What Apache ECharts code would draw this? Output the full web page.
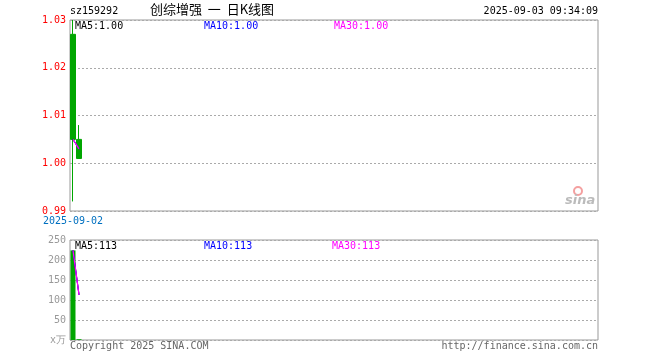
<!DOCTYPE html>
<html>
<head>
<meta charset="utf-8">
<script src="https://cdn.jsdelivr.net/npm/echarts@6/dist/echarts.min.js"></script>
<style>html,body{margin:0;padding:0;background:#fff}#c{width:660px;height:360px}</style>
</head>
<body>
<div id="c"></div>
<script>
// ---- data ----
var dates = ['2025-09-02', '2025-09-03'];
var openP  = [1.027, 1.005];
var closeP = [1.005, 1.001];
var lowP   = [0.992, 1.001];
var highP  = [1.030, 1.008];
var volumes = [224, 2];
var ma5  = [1.005, 1.003];
var ma10 = [1.005, 1.003];
var ma30 = [1.005, 1.003];
var volMa5  = [224, 113];
var volMa10 = [224, 113];
var volMa30 = [224, 113];
var priceTicks = [0.99, 1.00, 1.01, 1.02, 1.03];
var volTicks = [0, 50, 100, 150, 200, 250];
var slotCount = 88;

var cats = [];
for (var i = 0; i < slotCount; i++) cats.push(i < dates.length ? dates[i] : '');
var kData = dates.map(function (d, i) { return [openP[i], closeP[i], lowP[i], highP[i]]; });

var GREEN = '#00a600', RED = '#ff0000';
var mono = '"DejaVu Sans Mono", monospace';

var chart = echarts.init(document.getElementById('c'), null, {renderer: 'canvas'});
chart.setOption({
  animation: false,
  backgroundColor: '#fff',
  grid: [
    {left: 70, top: 20, width: 528, height: 191, show: true, borderColor: '#999', borderWidth: 1, backgroundColor: 'transparent'},
    {left: 70, top: 240, width: 528, height: 100, show: true, borderColor: '#999', borderWidth: 1, backgroundColor: 'transparent'}
  ],
  xAxis: [
    {type: 'category', gridIndex: 0, data: cats, boundaryGap: true,
     axisLine: {show: false}, axisTick: {show: false}, splitLine: {show: false},
     axisLabel: {show: true, interval: function (i) { return i === 0; }, color: '#0070c0', fontFamily: mono, fontSize: 10, margin: 5, align: 'center',
       formatter: function (v, i) { return i === 0 ? v : ''; }}},
    {type: 'category', gridIndex: 1, data: cats, boundaryGap: true,
     axisLine: {show: false}, axisTick: {show: false}, splitLine: {show: false}, axisLabel: {show: false}}
  ],
  yAxis: [
    {type: 'value', gridIndex: 0, min: priceTicks[0], max: priceTicks[priceTicks.length - 1], interval: 0.01,
     axisLine: {show: false}, axisTick: {show: false},
     splitLine: {show: true, lineStyle: {color: '#aaa', type: [2, 2], width: 1}},
     axisLabel: {color: RED, fontFamily: mono, fontSize: 10, margin: 4, formatter: function (v) { return v.toFixed(2); }}},
    {type: 'value', gridIndex: 1, min: volTicks[0], max: volTicks[volTicks.length - 1], interval: 50,
     axisLine: {show: false}, axisTick: {show: false},
     splitLine: {show: true, lineStyle: {color: '#aaa', type: [2, 2], width: 1}},
     axisLabel: {color: '#999', fontFamily: mono, fontSize: 10, margin: 4, formatter: function (v) { return v === 0 ? 'x万' : String(v); }}}
  ],
  series: [
    {type: 'candlestick', xAxisIndex: 0, yAxisIndex: 0, data: kData, barWidth: 5,
     itemStyle: {color: RED, color0: GREEN, borderColor: RED, borderColor0: GREEN, borderWidth: 1}},
    {type: 'line', xAxisIndex: 0, yAxisIndex: 0, data: ma5, symbol: 'none', lineStyle: {color: '#000', width: 1}},
    {type: 'line', xAxisIndex: 0, yAxisIndex: 0, data: ma10, symbol: 'none', lineStyle: {color: '#0000ff', width: 1}},
    {type: 'line', xAxisIndex: 0, yAxisIndex: 0, data: ma30, symbol: 'none', lineStyle: {color: '#ff00ff', width: 1.2}},
    {type: 'bar', xAxisIndex: 1, yAxisIndex: 1, data: volumes, barWidth: 5, itemStyle: {color: GREEN}},
    {type: 'line', xAxisIndex: 1, yAxisIndex: 1, data: volMa5, symbol: 'none', lineStyle: {color: '#000', width: 1}},
    {type: 'line', xAxisIndex: 1, yAxisIndex: 1, data: volMa10, symbol: 'none', lineStyle: {color: '#0000ff', width: 1}},
    {type: 'line', xAxisIndex: 1, yAxisIndex: 1, data: volMa30, symbol: 'none', lineStyle: {color: '#ff00ff', width: 1.2}}
  ],
  graphic: [
    {type: 'text', left: 70, top: 6, style: {text: 'sz159292', font: '10px ' + mono, fill: '#000'}},
    {type: 'text', left: 150, top: 3, style: {text: '创综增强  一  日K线图', font: '13px "Noto Sans CJK SC"', fill: '#000'}},
    {type: 'text', right: 62, top: 6, style: {text: '2025-09-03 09:34:09', font: '10px ' + mono, fill: '#000'}},
    {type: 'text', left: 75, top: 21, style: {text: 'MA5:' + ma5[ma5.length - 1].toFixed(2), font: '10px ' + mono, fill: '#000'}},
    {type: 'text', left: 204, top: 21, style: {text: 'MA10:' + ma10[ma10.length - 1].toFixed(2), font: '10px ' + mono, fill: '#0000ff'}},
    {type: 'text', left: 334, top: 21, style: {text: 'MA30:' + ma30[ma30.length - 1].toFixed(2), font: '10px ' + mono, fill: '#ff00ff'}},
    {type: 'text', left: 75, top: 241, style: {text: 'MA5:' + Math.round(volMa5[volMa5.length - 1]), font: '10px ' + mono, fill: '#000'}},
    {type: 'text', left: 204, top: 241, style: {text: 'MA10:' + Math.round(volMa10[volMa10.length - 1]), font: '10px ' + mono, fill: '#0000ff'}},
    {type: 'text', left: 332, top: 241, style: {text: 'MA30:' + Math.round(volMa30[volMa30.length - 1]), font: '10px ' + mono, fill: '#ff00ff'}},
    {type: 'text', left: 70, top: 341, style: {text: 'Copyright 2025 SINA.COM', font: '10px ' + mono, fill: '#666'}},
    {type: 'text', right: 62, top: 341, style: {text: 'http://finance.sina.com.cn', font: '10px ' + mono, fill: '#666'}},
    {type: 'circle', shape: {cx: 578, cy: 191, r: 4}, style: {fill: 'none', stroke: '#f4a0a0', lineWidth: 2}},
    {type: 'text', left: 565, top: 194, style: {text: 'sina', font: 'italic bold 13px "DejaVu Sans"', fill: '#bbb'}}
  ]
});
</script>
</body>
</html>
